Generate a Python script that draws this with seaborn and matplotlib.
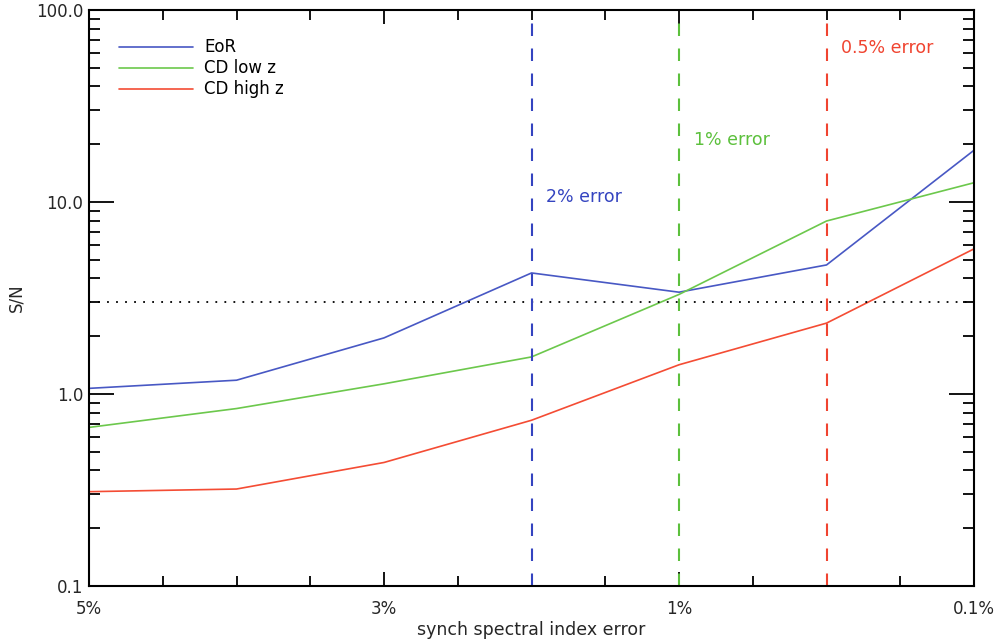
import matplotlib
matplotlib.use('Agg')
import matplotlib.pyplot as plt
import matplotlib.ticker as mticker
import numpy as np
import pandas as pd
import seaborn as sns

# Data
steps = [0, 1, 2, 3, 4, 5, 6]
eor = [1.07, 1.18, 1.96, 4.27, 3.39, 4.7, 18.6]
cd_low = [0.67, 0.84, 1.13, 1.56, 3.3, 7.96, 12.6]
cd_high = [0.31, 0.32, 0.44, 0.73, 1.42, 2.34, 5.7]
series_names = ['EoR', 'CD low z', 'CD high z']
tick_pos = [0, 2, 4, 6]
tick_labels = ['5%', '3%', '1%', '0.1%']
err_pos = [3, 4, 5]
err_labels = ['2% error', '1% error', '0.5% error']
sn_threshold = 3.0

colors = ['#4858c4', '#6cc84c', '#f44c34']
vcolors = ['#3444c0', '#5cc03c', '#f04430']

df = pd.DataFrame({
    'step': steps * 3,
    'sn': eor + cd_low + cd_high,
    'series': np.repeat(series_names, len(steps)),
})

sns.set_style('ticks')
plt.rcParams['font.family'] = ['DejaVu Sans']

fig = plt.figure(figsize=(9.99, 6.39), dpi=100)
ax = fig.add_axes([0.0891, 0.0829, 0.975 - 0.0891, 0.9844 - 0.0829])

sns.lineplot(data=df, x='step', y='sn', hue='series', palette=colors,
             linewidth=1.2, ax=ax, legend=False)

ax.set_yscale('log')
ax.set_ylim(0.1, 100)
ax.set_xlim(0, 6)

# threshold and error markers
ax.axhline(sn_threshold, color='black', linestyle=(0, (1, 4)), linewidth=1.3)
for xp, lab, c, ty in zip(err_pos, err_labels, vcolors, [10.6, 21.0, 63.0]):
    ax.axvline(xp, color=c, linestyle=(0, (6, 6)), linewidth=1.5)
    ax.text(xp + 0.1, ty, lab, color=c, fontsize=12.5, va='center', ha='left')

# legend drawn manually like the IDL original
leg_y = [0.935, 0.899, 0.862]
for name, c, yy in zip(series_names, colors, leg_y):
    ax.plot([0.034, 0.118], [yy, yy], color=c, linewidth=1.2, transform=ax.transAxes)
    ax.text(0.130, yy, name, color='black', fontsize=12, va='center', ha='left',
            transform=ax.transAxes)

ax.set_xticks(tick_pos)
ax.set_xticklabels(tick_labels)
ax.xaxis.set_minor_locator(mticker.MultipleLocator(0.5))
ax.yaxis.set_major_locator(mticker.FixedLocator([0.1, 1, 10, 100]))
ax.yaxis.set_major_formatter(mticker.FixedFormatter(['0.1', '1.0', '10.0', '100.0']))
ax.yaxis.set_minor_locator(mticker.LogLocator(subs=np.arange(2, 10)))
ax.yaxis.set_minor_formatter(mticker.NullFormatter())
ax.tick_params(axis='both', which='both', direction='in', top=True, right=True,
               color='black', labelsize=12)
ax.tick_params(axis='y', which='major', length=18, width=1.3, pad=4)
ax.tick_params(axis='y', which='minor', length=8, width=1.3)
ax.tick_params(axis='x', which='major', length=10, width=1.3, pad=10)
ax.tick_params(axis='x', which='minor', length=7, width=1.3)
for s in ax.spines.values():
    s.set_linewidth(1.5)
    s.set_color('black')

ax.set_xlabel('synch spectral index error', fontsize=12.5, labelpad=2)
ax.set_ylabel('S/N', fontsize=12, labelpad=8)

fig.savefig('out.png', dpi=100)
